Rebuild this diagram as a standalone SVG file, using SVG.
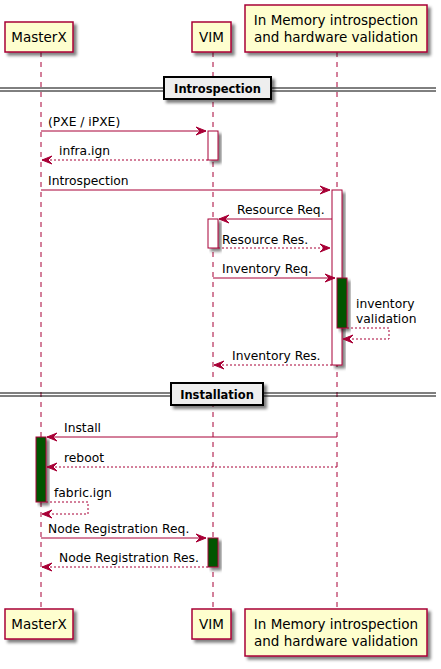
<svg xmlns="http://www.w3.org/2000/svg" width="441" height="669" viewBox="0 0 441 669">
<defs>
<filter id="sh" x="-20%" y="-20%" width="160%" height="160%">
<feGaussianBlur in="SourceAlpha" stdDeviation="1.5" result="b"/>
<feColorMatrix in="b" type="matrix" values="0 0 0 0 0  0 0 0 0 0  0 0 0 0 0  0 0 0 0.5 0" result="c"/>
<feOffset in="c" dx="3" dy="3" result="o"/>
<feMerge><feMergeNode in="o"/><feMergeNode in="SourceGraphic"/></feMerge>
</filter>
</defs>
<style>
.part{fill:#FEFECE;stroke:#A80036;stroke-width:1.5;filter:url(#sh)}
.pt{font-family:"DejaVu Sans",Verdana,sans-serif;font-size:13.5px;fill:#000;text-anchor:middle}
.life{stroke:#A80036;stroke-width:1;stroke-dasharray:5,5;fill:none}
.act{fill:#FFFFFF;stroke:#A80036;stroke-width:1;filter:url(#sh)}
.actg{fill:#005500;stroke:#A80036;stroke-width:1;filter:url(#sh)}
.msg{stroke:#A80036;stroke-width:1;fill:none}
.dash{stroke-dasharray:2,2}
.ah{fill:#A80036;stroke:#A80036;stroke-width:1}
.mt{font-family:"DejaVu Sans",Verdana,sans-serif;font-size:12.3px;fill:#000}
.dl{stroke:#000;stroke-width:1;fill:none}
.db{fill:#EEEEEE;stroke:#000;stroke-width:2;filter:url(#sh)}
.dt{font-family:"DejaVu Sans",Verdana,sans-serif;font-size:11.5px;font-weight:bold;fill:#000;text-anchor:middle}
</style>
<rect width="441" height="669" fill="#FFFFFF"/>
<g id="lifelines">
<line class="life" x1="41" y1="52" x2="41" y2="609"/>
<line class="life" x1="213" y1="52" x2="213" y2="609"/>
<line class="life" x1="337" y1="52" x2="337" y2="609"/>
</g>
<g id="participant-masterx">
<rect class="part" x="5" y="22" width="68" height="30"/>
<text class="pt" x="39" y="42">MasterX</text>
<rect class="part" x="5" y="609" width="68" height="30"/>
<text class="pt" x="39" y="629">MasterX</text>
</g>
<g id="participant-vim">
<rect class="part" x="192" y="22" width="39" height="30"/>
<text class="pt" x="211.5" y="42">VIM</text>
<rect class="part" x="192" y="609" width="39" height="30"/>
<text class="pt" x="211.5" y="629">VIM</text>
</g>
<g id="participant-inmem">
<rect class="part" x="245" y="5" width="182" height="47"/>
<text class="pt" x="336" y="25">In Memory introspection</text>
<text class="pt" x="336" y="42">and hardware validation</text>
<rect class="part" x="245" y="609" width="182" height="47"/>
<text class="pt" x="336" y="629">In Memory introspection</text>
<text class="pt" x="336" y="646">and hardware validation</text>
</g>
<g id="divider-introspection">
<line class="dl" x1="0" y1="88" x2="436" y2="88"/>
<line class="dl" x1="0" y1="91" x2="436" y2="91"/>
<rect class="db" x="164" y="77" width="107" height="22"/>
<text class="dt" x="217.5" y="93">Introspection</text>
</g>
<g id="divider-installation">
<line class="dl" x1="0" y1="393" x2="436" y2="393"/>
<line class="dl" x1="0" y1="396" x2="436" y2="396"/>
<rect class="db" x="171" y="383" width="92" height="22"/>
<text class="dt" x="217" y="399">Installation</text>
</g>
<g id="activations">
<rect class="act" x="208" y="131" width="10" height="29"/>
<rect class="act" x="332" y="190" width="10" height="175"/>
<rect class="act" x="208" y="219" width="10" height="29"/>
<rect class="actg" x="337" y="278" width="10" height="50"/>
<rect class="actg" x="36" y="437" width="10" height="65"/>
<rect class="actg" x="208" y="538" width="10" height="29"/>
</g>
<g id="connectors">
<line class="msg" x1="41" y1="131" x2="206" y2="131"/>
<polygon class="ah" points="196,127 206,131 196,135 200,131"/>
<text class="mt" x="48" y="126">(PXE / iPXE)</text>

<line class="msg dash" x1="208" y1="160" x2="42" y2="160"/>
<polygon class="ah" points="52,156 42,160 52,164 48,160"/>
<text class="mt" x="59" y="155">infra.ign</text>

<line class="msg" x1="41" y1="190" x2="330" y2="190"/>
<polygon class="ah" points="320,186 330,190 320,194 324,190"/>
<text class="mt" x="48" y="185">Introspection</text>

<line class="msg" x1="332" y1="219" x2="219" y2="219"/>
<polygon class="ah" points="229,215 219,219 229,223 225,219"/>
<text class="mt" x="237" y="214">Resource Req.</text>

<line class="msg dash" x1="218" y1="248" x2="330" y2="248"/>
<polygon class="ah" points="320,244 330,248 320,252 324,248"/>
<text class="mt" x="222" y="244">Resource Res.</text>

<line class="msg" x1="213" y1="278" x2="335" y2="278"/>
<polygon class="ah" points="325,274 335,278 325,282 329,278"/>
<text class="mt" x="222" y="273">Inventory Req.</text>

<polyline class="msg dash" points="347,328 389,328 389,339 343,339"/>
<polygon class="ah" points="353,335 343,339 353,343 349,339"/>
<text class="mt" x="356" y="308">inventory</text>
<text class="mt" x="356" y="323">validation</text>

<line class="msg dash" x1="332" y1="365" x2="214" y2="365"/>
<polygon class="ah" points="224,361 214,365 224,369 220,365"/>
<text class="mt" x="232" y="360">Inventory Res.</text>

<line class="msg" x1="337" y1="437" x2="47" y2="437"/>
<polygon class="ah" points="57,433 47,437 57,441 53,437"/>
<text class="mt" x="64" y="432">Install</text>

<line class="msg dash" x1="337" y1="467" x2="47" y2="467"/>
<polygon class="ah" points="57,463 47,467 57,471 53,467"/>
<text class="mt" x="64" y="462">reboot</text>

<polyline class="msg dash" points="46,502 88,502 88,514 42,514"/>
<polygon class="ah" points="52,510 42,514 52,518 48,514"/>
<text class="mt" x="54" y="497">fabric.ign</text>

<line class="msg" x1="41" y1="538" x2="206" y2="538"/>
<polygon class="ah" points="196,534 206,538 196,542 200,538"/>
<text class="mt" x="48" y="533">Node Registration Req.</text>

<line class="msg dash" x1="208" y1="567" x2="42" y2="567"/>
<polygon class="ah" points="52,563 42,567 52,571 48,567"/>
<text class="mt" x="59" y="562">Node Registration Res.</text>
</g>
</svg>
